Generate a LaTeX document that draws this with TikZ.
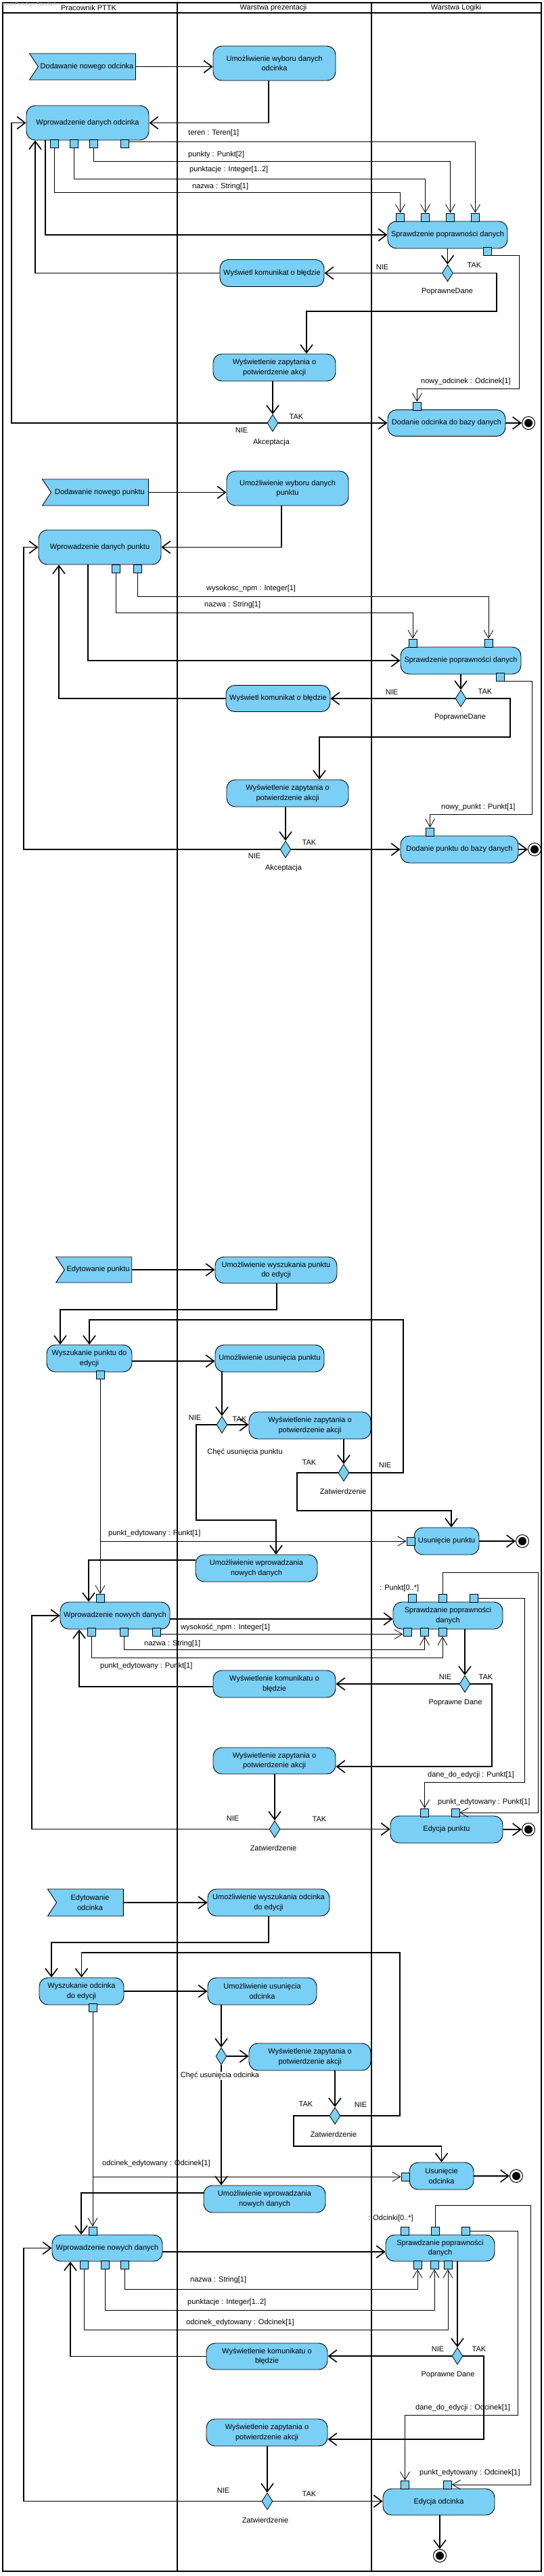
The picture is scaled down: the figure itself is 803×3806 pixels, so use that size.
\documentclass[tikz,border=0pt]{standalone}
\usepackage{fontspec}
\setmainfont{Liberation Sans}
\usetikzlibrary{arrows.meta,shapes.geometric,shapes.symbols}
\definecolor{actfill}{RGB}{122,207,245}
\begin{document}
\begin{tikzpicture}[x=1pt,y=-1pt,
  font=\fontsize{11}{14.3}\selectfont,
  act/.style={draw=black,line width=0.9pt,fill=actfill,rounded corners=13pt,align=center,inner sep=0pt},
  flag/.style={draw=black,line width=0.9pt,fill=actfill,signal,signal to=nowhere,signal from=west,signal pointer angle=113,align=center,inner sep=0pt},
  pinbox/.style={draw=black,line width=0.8pt,fill=actfill,minimum size=12pt,inner sep=0pt},
  dec/.style={draw=black,line width=0.8pt,fill=actfill,diamond,minimum width=16pt,minimum height=25pt,inner sep=0pt},
  fin/.style={circle,draw=black,line width=1pt,fill=white,minimum size=19pt,inner sep=0pt,path picture={\fill[black] (path picture bounding box.center) circle (6pt);}},
  cf/.style={line width=1.6pt,-{Straight Barb[length=12pt,width=18pt]}},
  of/.style={line width=0.8pt,-{Straight Barb[length=12pt,width=14pt]}},
  lbl/.style={inner sep=0pt,anchor=west},
  txt/.style={inner sep=0pt},
  lane/.style={line width=1.6pt},
]
\useasboundingbox (0,0) rectangle (803,3806);
% ---------- swimlanes ----------
\draw[lane] (4,4) rectangle (800,3799);
\draw[lane] (4,19) -- (800,19);
\draw[lane] (262,4) -- (262,3799);
\draw[lane] (549,4) -- (549,3799);
\node[txt] (h1) at (131,12) {Pracownik PTTK};
\node[txt] (h2) at (404,12) {Warstwa prezentacji};
\node[txt] (h3) at (674,12) {Warstwa Logiki};
\node[lbl,text=gray!60,font=\fontsize{7}{8}\selectfont] (wm) at (1,7) {Visual Paradigm Standard};

% ================= Section 1 =================
\node[flag,minimum width=157pt,minimum height=39pt] (s1) at (128.5,98.5) {Dodawanie nowego odcinka};
\node[act,minimum width=181pt,minimum height=51pt] (a1) at (405.5,93.5) {Umożliwienie wyboru danych\\odcinka};
\node[act,minimum width=181pt,minimum height=51pt] (a2) at (129.5,181.5) {Wprowadzenie danych odcinka};
\node[pinbox] (p1a) at (80,212) {};
\node[pinbox] (p1b) at (109,212) {};
\node[pinbox] (p1c) at (138.5,212) {};
\node[pinbox] (p1d) at (184,212) {};
\node[act,minimum width=177pt,minimum height=40pt] (a3) at (661.5,347) {Sprawdzenie poprawności danych};
\node[pinbox] (q1) at (591.5,321) {};
\node[pinbox] (q2) at (628.5,321) {};
\node[pinbox] (q3) at (665.5,321) {};
\node[pinbox] (q4) at (702.5,321) {};
\node[pinbox] (r1) at (720,371) {};
\node[dec] (d1) at (661.5,403.5) {};
\node[act,minimum width=154pt,minimum height=40pt] (a4) at (402,403.5) {Wyświetl komunikat o błędzie};
\node[act,minimum width=181pt,minimum height=40pt] (a5) at (405.5,543) {Wyświetlenie zapytania o\\potwierdzenie akcji};
\node[dec] (d2) at (403,625) {};
\node[act,minimum width=174pt,minimum height=39pt] (a6) at (660,625) {Dodanie odcinka do bazy danych};
\node[pinbox] (t1) at (616.5,600) {};
\node[fin] (f1) at (781,625) {};

\draw[cf] (s1.east) -- (s1.east -| a1.west);
\draw[cf] (a1.south -| 397,0) |- (a2.east);
\draw[cf] (a2.south -| 67,0) |- (a3.west);
\draw[cf] (a3.south -| d1.north) -- (d1.north);
\draw[cf] (d1.west) -- (a4.east);
\draw[cf] (a4.west) -| (a2.south -| 52,0);
\draw[cf] (d1.east) -| (734,460) -| (a5.north -| 453,0);
\draw[cf] (a5.south -| d2.north) -- (d2.north);
\draw[cf] (d2.east) -- (a6.west);
\draw[cf] (d2.west) -| (17,181.5) -- (a2.west);
\draw[cf] (a6.east) -- (f1.west);
\draw[of] (p1a.south) -- (p1a.south |- 0,284) -| (q1.north);
\draw[of] (p1b.south) -- (p1b.south |- 0,264) -| (q2.north);
\draw[of] (p1c.south) -- (p1c.south |- 0,238) -| (q3.north);
\draw[of] ([yshift=3pt]p1d.east) -| (q4.north);
\draw[of] (r1.south east) -| (767,574) -| (t1.north);

\node[lbl] (l101) at (278,197) {teren : Teren[1]};
\node[lbl] (l102) at (278,229) {punkty : Punkt[2]};
\node[lbl] (l103) at (280,251) {punktacje : Integer[1..2]};
\node[lbl] (l104) at (284,276) {nazwa : String[1]};
\node[txt] (l105) at (565,395) {NIE};
\node[txt] (l106) at (701,392) {TAK};
\node[txt] (l107) at (661,431) {PoprawneDane};
\node[lbl] (l108) at (622,564) {nowy\_odcinek : Odcinek[1]};
\node[txt] (l109) at (438,616) {TAK};
\node[txt] (l110) at (357,636) {NIE};
\node[txt] (l111) at (401,654) {Akceptacja};

% ================= Section 2 =================
\node[flag,minimum width=157pt,minimum height=39pt] (s2) at (147.5,727.5) {Dodawanie nowego punktu};
\node[act,minimum width=180pt,minimum height=51pt] (b1) at (425,721.5) {Umożliwienie wyboru danych\\punktu};
\node[act,minimum width=181pt,minimum height=51pt] (b2) at (147.5,808.5) {Wprowadzenie danych punktu};
\node[pinbox] (pb1) at (171.5,840) {};
\node[pinbox] (pb2) at (203,840) {};
\node[act,minimum width=178pt,minimum height=40pt] (b3) at (681,976) {Sprawdzenie poprawności danych};
\node[pinbox] (qb1) at (610,950) {};
\node[pinbox] (qb2) at (722,950) {};
\node[pinbox] (rb) at (739,1000) {};
\node[dec] (d3) at (681,1032) {};
\node[act,minimum width=154pt,minimum height=39pt] (b4) at (411,1032) {Wyświetl komunikat o błędzie};
\node[act,minimum width=180pt,minimum height=40pt] (b5) at (425,1172) {Wyświetlenie zapytania o\\potwierdzenie akcji};
\node[dec] (d4) at (422,1255) {};
\node[act,minimum width=174pt,minimum height=40pt] (b6) at (679,1255) {Dodanie punktu do bazy danych};
\node[pinbox] (tb) at (635.5,1229) {};
\node[fin] (f2) at (790,1255) {};

\draw[cf] (s2.east) -- (s2.east -| b1.west);
\draw[cf] (b1.south -| 416,0) |- (b2.east);
\draw[cf] (b2.south -| 130,0) |- (b3.west);
\draw[cf] (b3.south -| d3.north) -- (d3.north);
\draw[cf] (d3.west) -- (b4.east);
\draw[cf] (b4.west) -| (b2.south -| 87,0);
\draw[cf] (d3.east) -| (754,1089) -| (b5.north -| 472,0);
\draw[cf] (b5.south -| d4.north) -- (d4.north);
\draw[cf] (d4.east) -- (b6.west);
\draw[cf] (d4.west) -| (35,808.5) -- (b2.west);
\draw[cf] (b6.east) -- (f2.west);
\draw[of] (pb2.south) -- (pb2.south |- 0,881) -| (qb2.north);
\draw[of] (pb1.south) -- (pb1.south |- 0,905) -| (qb1.north);
\draw[of] (rb.south east) -| (786,1203) -| (tb.north);

\node[lbl] (l201) at (305,870) {wysokosc\_npm : Integer[1]};
\node[lbl] (l202) at (302,894) {nazwa : String[1]};
\node[txt] (l203) at (579,1023) {NIE};
\node[txt] (l204) at (717,1022) {TAK};
\node[txt] (l205) at (680,1060) {PoprawneDane};
\node[lbl] (l206) at (652,1193) {nowy\_punkt : Punkt[1]};
\node[txt] (l207) at (457,1245) {TAK};
\node[txt] (l208) at (376,1265) {NIE};
\node[txt] (l209) at (419,1283) {Akceptacja};

% ================= Section 3 =================
\node[flag,minimum width=112pt,minimum height=38pt] (s3) at (145,1876) {Edytowanie punktu};
\node[act,minimum width=180pt,minimum height=39pt] (c1) at (408,1876.5) {Umożliwienie wyszukania punktu\\do edycji};
\node[act,minimum width=126pt,minimum height=40pt] (c2) at (132,2007) {Wyszukanie punktu do\\edycji};
\node[act,minimum width=161pt,minimum height=40pt] (c3) at (398.5,2007) {Umożliwienie usunięcia punktu};
\node[pinbox] (u1) at (148,2031.5) {};
\node[dec] (d5) at (328,2105) {};
\node[act,minimum width=180pt,minimum height=40pt] (c4) at (458,2106) {Wyświetlenie zapytania o\\potwierdzenie akcji};
\node[dec] (d6) at (508,2176) {};
\node[act,minimum width=96pt,minimum height=40pt] (c5) at (660,2277) {Usunięcie punktu};
\node[pinbox] (u2) at (607,2277) {};
\node[fin] (f3) at (772,2277) {};
\node[act,minimum width=180pt,minimum height=40pt] (c6) at (379,2317) {Umożliwienie wprowadzania\\nowych danych};
\node[act,minimum width=162pt,minimum height=40pt] (c7) at (170,2387) {Wprowadzenie nowych danych};
\node[pinbox] (u3) at (148,2361.5) {};
\node[pinbox] (v1) at (135,2411.5) {};
\node[pinbox] (v2) at (183,2411.5) {};
\node[pinbox] (v3) at (231.5,2411.5) {};
\node[act,minimum width=162pt,minimum height=40pt] (c8) at (662,2387) {Sprawdzanie poprawności\\danych};
\node[pinbox] (w1) at (609.5,2361.5) {};
\node[pinbox] (w2) at (654,2361.5) {};
\node[pinbox] (w3) at (700,2361.5) {};
\node[pinbox] (x1) at (602,2411.5) {};
\node[pinbox] (x2) at (627.5,2411.5) {};
\node[pinbox] (x3) at (654,2411.5) {};
\node[dec] (d7) at (687,2488) {};
\node[act,minimum width=181pt,minimum height=40pt] (c9) at (405.5,2488) {Wyświetlenie komunikatu o\\błędzie};
\node[act,minimum width=181pt,minimum height=39pt] (c10) at (405.5,2601.5) {Wyświetlenie zapytania o\\potwierdzenie akcji};
\node[dec] (d8) at (406,2702.5) {};
\node[act,minimum width=166pt,minimum height=40pt] (c11) at (660,2703) {Edycja punktu};
\node[pinbox] (y1) at (627.5,2678) {};
\node[pinbox] (y2) at (673,2678) {};
\node[fin] (f4) at (781,2703) {};

\draw[cf] (s3.east) -- (s3.east -| c1.west);
\draw[cf] (c1.south -| 409,0) |- (89,1935) -- (c2.north -| 89,0);
\draw[cf] (d6.east) -| (596,1950) -| (c2.north);
\draw[cf] ([yshift=-4pt]c2.east) -- ([yshift=-4pt]c2.east -| c3.west);
\draw[cf] (c3.south -| d5.north) -- (d5.north);
\draw[cf] (d5.east) -- (d5.east -| c4.west);
\draw[cf] (d5.west) -| (290,2246) -| (c6.north -| 408,0);
\draw[cf] (c4.south -| d6.north) -- (d6.north);
\draw[cf] (d6.west) -| (439,2232) -| (c5.north -| 667,0);
\draw[cf] (c5.east) -- (f3.west);
\draw[cf] ([yshift=12pt]c6.west) -| (c7.north -| 131,0);
\draw[cf] ([yshift=-5pt]c7.east) -- ([yshift=-5pt]c7.east -| c8.west);
\draw[cf] (c8.south -| d7.north) -- (d7.north);
\draw[cf] (d7.west) -- (c9.east);
\draw[cf] ([yshift=-4pt]c9.west) -| (c7.south -| 117,0);
\draw[cf] (d7.east) -| (727,2610) -- (c10.east |- 0,2610);
\draw[cf] (c10.south -| d8.north) -- (d8.north);
\draw[cf] (d8.east) -- (d8.east -| c11.west);
\draw[cf] (d8.west) -| (47,2387) -- (c7.west);
\draw[cf] (c11.east) -- (f4.west);
\draw[of] (u1.south) |- (u2.west);
\draw[of] (u1.south) -- (u3.north);
\draw[of] ([yshift=-3pt]v3.east) -- ([yshift=-3pt]x1.west);
\draw[of] (v2.south) -- (v2.south |- 0,2437) -| (x2.south);
\draw[of] (v1.south) -- (v1.south |- 0,2449) -| (x3.south);
\draw[of] (w2.north) -- (w2.north |- 0,2323) -| (795,2678) -- (y2.east);
\draw[of] (w3.east) -| (775,2633) -| (y1.north);

\node[lbl] (l301) at (160,2266) {punkt\_edytowany : Punkt[1]};
\node[txt] (l302) at (288,2095) {NIE};
\node[txt] (l303) at (354,2097) {TAK};
\node[txt] (l304) at (362,2146) {Chęć usunięcia punktu};
\node[txt] (l305) at (457,2161) {TAK};
\node[txt] (l306) at (569,2165) {NIE};
\node[txt] (l307) at (507,2204) {Zatwierdzenie};
\node[lbl] (l308) at (561,2347) {: Punkt[0..*]};
\node[lbl] (l309) at (267,2405) {wysokość\_npm : Integer[1]};
\node[lbl] (l310) at (213,2429) {nazwa : String[1]};
\node[lbl] (l311) at (148,2462) {punkt\_edytowany : Punkt[1]};
\node[txt] (l312) at (658,2478) {NIE};
\node[txt] (l313) at (718,2478) {TAK};
\node[txt] (l314) at (673,2516) {Poprawne Dane};
\node[lbl] (l315) at (632,2623) {dane\_do\_edycji : Punkt[1]};
\node[lbl] (l316) at (647,2663) {punkt\_edytowany : Punkt[1]};
\node[txt] (l317) at (344,2687) {NIE};
\node[txt] (l318) at (472,2688) {TAK};
\node[txt] (l319) at (404,2731) {Zatwierdzenie};

% ================= Section 4 =================
\node[flag,minimum width=112pt,minimum height=40pt] (s4) at (133,2811) {Edytowanie\\odcinka};
\node[act,minimum width=180pt,minimum height=40pt] (e1) at (397,2811) {Umożliwienie wyszukania odcinka\\do edycji};
\node[act,minimum width=125pt,minimum height=40pt] (e2) at (120.5,2942) {Wyszukanie odcinka\\do edycji};
\node[act,minimum width=161pt,minimum height=40pt] (e3) at (387.5,2942) {Umożliwienie usunięcia\\odcinka};
\node[pinbox] (g1) at (137,2966.5) {};
\node[dec] (d9) at (327,3038) {};
\node[act,minimum width=180pt,minimum height=40pt] (e4) at (458,3039) {Wyświetlenie zapytania o\\potwierdzenie akcji};
\node[dec] (d10) at (495,3126) {};
\node[act,minimum width=95pt,minimum height=40pt] (e5) at (652.5,3215) {Usunięcie\\odcinka};
\node[pinbox] (g2) at (599,3216) {};
\node[fin] (f5) at (763,3215) {};
\node[act,minimum width=180pt,minimum height=40pt] (e6) at (391,3249) {Umożliwienie wprowadzania\\nowych danych};
\node[act,minimum width=163pt,minimum height=39pt] (e7) at (158.5,3321.5) {Wprowadzenie nowych danych};
\node[pinbox] (g3) at (137,3296) {};
\node[pinbox] (k1h) at (124,3346.5) {};
\node[pinbox] (k2h) at (155,3346.5) {};
\node[pinbox] (k3h) at (184.5,3346.5) {};
\node[act,minimum width=161pt,minimum height=39pt] (e8) at (650.5,3321.5) {Sprawdzanie poprawności\\danych};
\node[pinbox] (k1) at (598,3296.5) {};
\node[pinbox] (k2) at (643.5,3296.5) {};
\node[pinbox] (k3) at (688.5,3296.5) {};
\node[pinbox] (m1) at (617,3346.5) {};
\node[pinbox] (m2) at (642,3346.5) {};
\node[pinbox] (m3) at (662,3346.5) {};
\node[dec] (d11) at (676,3481) {};
\node[act,minimum width=179pt,minimum height=39pt] (e9) at (394.5,3481.5) {Wyświetlenie komunikatu o\\błędzie};
\node[act,minimum width=179pt,minimum height=40pt] (e10) at (394.5,3594) {Wyświetlenie zapytania o\\potwierdzenie akcji};
\node[dec] (d12) at (395,3695.5) {};
\node[act,minimum width=165pt,minimum height=39pt] (e11) at (648.5,3696.5) {Edycja odcinka};
\node[pinbox] (n1) at (598.5,3671) {};
\node[pinbox] (n2) at (661.5,3671) {};
\node[fin] (f6) at (650,3776) {};

\draw[cf] (s4.east) -- (s4.east -| e1.west);
\draw[cf] (e1.south) |- (76,2870) -- (e2.north -| 76,0);
\draw[cf] (d10.east) -| (591,2885) -| (e2.north);
\draw[cf] (e2.east) -- (e2.east -| e3.west);
\draw[cf] (e3.south -| d9.north) -- (d9.north);
\draw[cf] (d9.east) -- (d9.east -| e4.west);
\draw[cf] (d9.south) -- (d9.south |- e6.north);
\draw[cf] (e4.south -| d10.north) -- (d10.north);
\draw[cf] (d10.west) -| (434,3171) -| (e5.north);
\draw[cf] (e5.east) -- (f5.west);
\draw[cf] ([yshift=9pt]e6.west) -| (e7.north -| 120,0);
\draw[cf] ([yshift=-5.5pt]e7.east) -- ([yshift=-5.5pt]e7.east -| e8.west);
\draw[cf] (e8.south -| d11.north) -- (d11.north);
\draw[cf] (d11.west) -- (d11.west -| e9.east);
\draw[cf] (e9.west) -| (e7.south -| 104,0);
\draw[cf] (d11.east) -| (715,3604) -- (e10.east |- 0,3604);
\draw[cf] (e10.south -| d12.north) -- (d12.north);
\draw[cf] (d12.east) -- (d12.east -| e11.west);
\draw[cf] (d12.west) -| (35,3321.5) -- (e7.west);
\draw[cf] (e11.south -| f6.north) -- (f6.north);
\draw[of] (g1.south) |- (g2.west);
\draw[of] (g1.south) -- (g3.north);
\draw[of] (k3h.south) -- (k3h.south |- 0,3382) -| (m1.south);
\draw[of] (k2h.south) -- (k2h.south |- 0,3413) -| (m2.south);
\draw[of] (k1h.south) -- (k1h.south |- 0,3442) -| (m3.south);
\draw[of] (k2.north) -- (k2.north |- 0,3258) -| (784,3671) -- (n2.east);
\draw[of] (k3.east) -| (765,3568) -| (n1.north);

\node[lbl] (l401) at (151,3197) {odcinek\_edytowany : Odcinek[1]};
\node[txt,fill=white,inner sep=1pt] (l402) at (325,3067) {Chęć usunięcia odcinka};
\node[txt] (l403) at (452,3109) {TAK};
\node[txt] (l404) at (533,3110) {NIE};
\node[txt] (l405) at (493,3154) {Zatwierdzenie};
\node[lbl] (l406) at (544,3278) {: Odcinki[0..*]};
\node[lbl] (l407) at (281,3369) {nazwa : String[1]};
\node[lbl] (l408) at (277,3402) {punktacje : Integer[1..2]};
\node[lbl] (l409) at (275,3432) {odcinek\_edytowany : Odcinek[1]};
\node[txt] (l410) at (647,3471) {NIE};
\node[txt] (l411) at (708,3471) {TAK};
\node[txt] (l412) at (662,3509) {Poprawne Dane};
\node[lbl] (l413) at (614,3558) {dane\_do\_edycji : Odcinek[1]};
\node[lbl] (l414) at (620,3654) {punkt\_edytowany : Odcinek[1]};
\node[txt] (l415) at (330,3680) {NIE};
\node[txt] (l416) at (457,3685) {TAK};
\node[txt] (l417) at (392,3724) {Zatwierdzenie};
\end{tikzpicture}
\end{document}
